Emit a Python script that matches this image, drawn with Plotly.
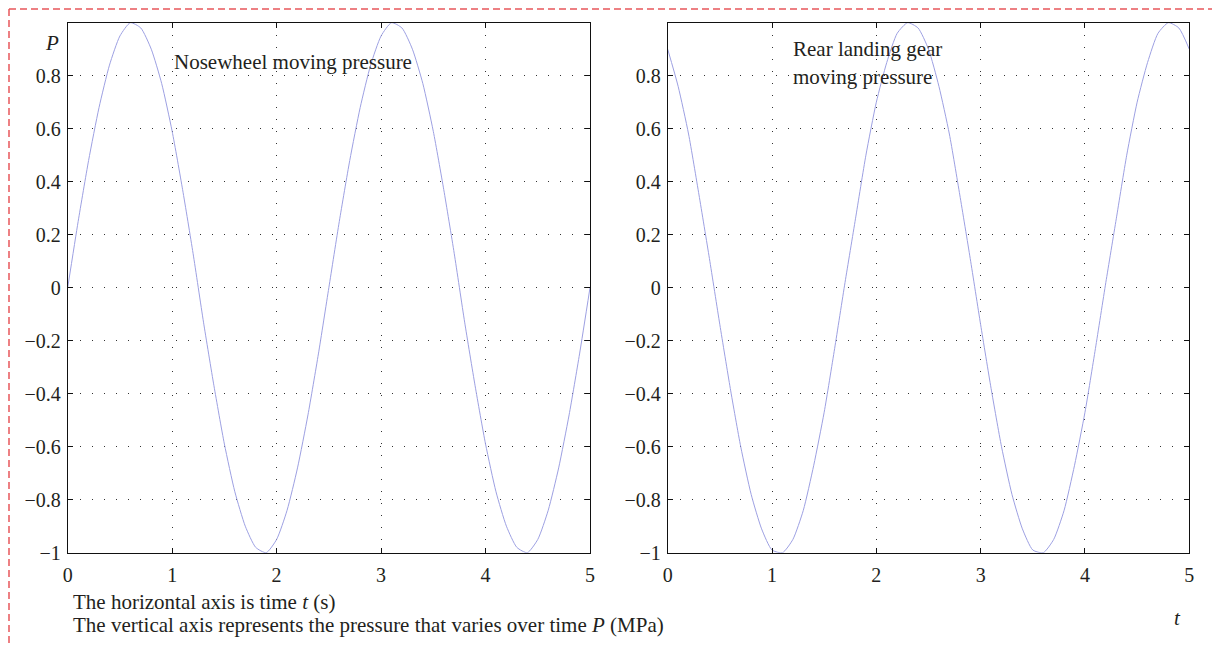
import plotly.graph_objects as go

# Sample times (s)
time_s = [0.0, 0.1, 0.2, 0.3, 0.4, 0.5, 0.6, 0.7, 0.8, 0.9,
          1.0, 1.1, 1.2, 1.3, 1.4, 1.5, 1.6, 1.7, 1.8, 1.9,
          2.0, 2.1, 2.2, 2.3, 2.4, 2.5, 2.6, 2.7, 2.8, 2.9,
          3.0, 3.1, 3.2, 3.3, 3.4, 3.5, 3.6, 3.7, 3.8, 3.9,
          4.0, 4.1, 4.2, 4.3, 4.4, 4.5, 4.6, 4.7, 4.8, 4.9, 5.0]

# Nosewheel moving pressure P (MPa)
nose_pressure = [0.00, 0.25, 0.48, 0.68, 0.84, 0.95, 1.00, 0.98, 0.90, 0.77,
                 0.59, 0.37, 0.13, -0.13, -0.37, -0.59, -0.77, -0.90, -0.98, -1.00,
                 -0.95, -0.84, -0.68, -0.48, -0.25, 0.00, 0.25, 0.48, 0.68, 0.84,
                 0.95, 1.00, 0.98, 0.90, 0.77, 0.59, 0.37, 0.13, -0.13, -0.37,
                 -0.59, -0.77, -0.90, -0.98, -1.00, -0.95, -0.84, -0.68, -0.48, -0.25, 0.00]

# Rear landing gear moving pressure P (MPa)
rear_pressure = [0.90, 0.76, 0.58, 0.35, 0.11, -0.14, -0.38, -0.60, -0.78, -0.91,
                 -0.99, -1.00, -0.95, -0.84, -0.67, -0.47, -0.23, 0.02, 0.26, 0.50,
                 0.70, 0.85, 0.96, 1.00, 0.98, 0.90, 0.76, 0.58, 0.35, 0.11,
                 -0.14, -0.38, -0.60, -0.78, -0.91, -0.99, -1.00, -0.95, -0.84, -0.67,
                 -0.47, -0.23, 0.02, 0.26, 0.50, 0.70, 0.85, 0.96, 1.00, 0.98, 0.90]

x_ticks = [0, 1, 2, 3, 4, 5]
x_tick_labels = ["0", "1", "2", "3", "4", "5"]
y_ticks = [-1, -0.8, -0.6, -0.4, -0.2, 0, 0.2, 0.4, 0.6, 0.8]
y_tick_labels = ["\u22121", "\u22120.8", "\u22120.6", "\u22120.4", "\u22120.2",
                 "0", "0.2", "0.4", "0.6", "0.8"]

W, H = 1212, 647
FONT = "Liberation Serif"
TEXT = "#231f20"
CURVE = "#9da0e2"


def px_x(v):
    return v / W


def px_y(v):
    return 1 - v / H


fig = go.Figure()
fig.add_trace(go.Scatter(x=time_s, y=nose_pressure, mode="lines",
                         line=dict(color=CURVE, width=1, shape="spline", smoothing=0.6),
                         xaxis="x", yaxis="y", showlegend=False))
fig.add_trace(go.Scatter(x=time_s, y=rear_pressure, mode="lines",
                         line=dict(color=CURVE, width=1, shape="spline", smoothing=0.6),
                         xaxis="x2", yaxis="y2", showlegend=False))

common_x = dict(range=[0, 5], tickvals=x_ticks, ticktext=x_tick_labels,
                showline=True, linecolor="#111", linewidth=1, mirror="allticks",
                ticks="inside", ticklen=5, tickcolor="#111",
                showgrid=True, gridcolor="#333", gridwidth=1, griddash="1px,11px",
                zeroline=False, ticklabelstandoff=4, automargin=False,
                tickfont=dict(family=FONT, size=20, color=TEXT))
common_y = dict(range=[-1, 1], tickvals=y_ticks, ticktext=y_tick_labels,
                showline=True, linecolor="#111", linewidth=1, mirror="allticks",
                ticks="inside", ticklen=5, tickcolor="#111",
                showgrid=True, gridcolor="#333", gridwidth=1, griddash="1px,11px",
                zeroline=False, ticklabelstandoff=2, automargin=False,
                tickfont=dict(family=FONT, size=20, color=TEXT))

left = (px_x(67.7), px_x(590))
right = (px_x(667.7), px_x(1189.3))
vert = (px_y(552.7), px_y(22.7))

fig.update_layout(
    width=W, height=H,
    margin=dict(l=0, r=0, t=0, b=0, autoexpand=False),
    paper_bgcolor="white", plot_bgcolor="white",
    xaxis=dict(domain=left, anchor="y", **common_x),
    yaxis=dict(domain=vert, anchor="x", **common_y),
    xaxis2=dict(domain=right, anchor="y2", **common_x),
    yaxis2=dict(domain=vert, anchor="x2", **common_y),
)

ann = dict(xref="paper", yref="paper", showarrow=False,
           font=dict(family=FONT, size=21, color=TEXT))
fig.add_annotation(x=px_x(52), y=px_y(43), text="<i>P</i>", xanchor="center", yanchor="middle", **ann)
fig.add_annotation(x=px_x(172), y=px_y(62), text="Nosewheel moving pressure",
                   xanchor="left", yanchor="middle", **ann)
fig.add_annotation(x=px_x(791), y=px_y(49), text="Rear landing gear",
                   xanchor="left", yanchor="middle", **ann)
fig.add_annotation(x=px_x(791), y=px_y(77), text="moving pressure",
                   xanchor="left", yanchor="middle", **ann)
fig.add_annotation(x=px_x(71), y=px_y(602), text="The horizontal axis is time <i>t</i> (s)",
                   xanchor="left", yanchor="middle", **ann)
fig.add_annotation(x=px_x(71), y=px_y(625),
                   text="The vertical axis represents the pressure that varies over time <i>P</i> (MPa)",
                   xanchor="left", yanchor="middle", **ann)
fig.add_annotation(x=px_x(1177), y=px_y(618), text="<i>t</i>", xanchor="center", yanchor="middle", **ann)

# Dashed frame along the top and left edges
frame = dict(type="line", xref="paper", yref="paper",
             line=dict(color="#e8575b", width=1.5, dash="7px,4px"))
fig.add_shape(x0=px_x(9), y0=px_y(9), x1=1, y1=px_y(9), **frame)
fig.add_shape(x0=px_x(9), y0=px_y(9), x1=px_x(9), y1=0, **frame)

fig.write_html("out.html")
